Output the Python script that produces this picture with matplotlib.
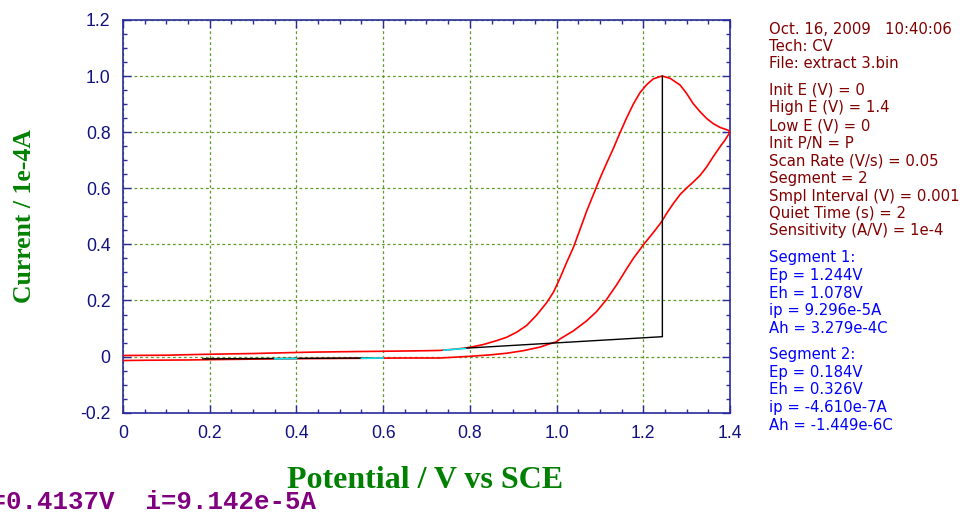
import matplotlib
matplotlib.use("Agg")
import matplotlib.pyplot as plt
from matplotlib.ticker import MultipleLocator, FixedLocator

# ---------------- data ----------------
fwd_E = [0.0, 0.1, 0.185, 0.30, 0.38, 0.44, 0.54, 0.60, 0.65, 0.70, 0.731, 0.770, 0.800,
         0.831, 0.862, 0.885, 0.908, 0.931, 0.954, 0.977, 0.993, 1.008, 1.023, 1.039,
         1.054, 1.069, 1.085, 1.100, 1.115, 1.131, 1.146, 1.161, 1.177, 1.192, 1.208,
         1.223, 1.238, 1.244, 1.262, 1.285, 1.300, 1.315, 1.331, 1.346, 1.361, 1.377,
         1.396, 1.40]
fwd_i = [0.004, 0.005, 0.008, 0.011, 0.014, 0.016, 0.018, 0.019, 0.020, 0.021, 0.022, 0.027, 0.033,
         0.043, 0.057, 0.069, 0.087, 0.111, 0.148, 0.192, 0.230, 0.280, 0.335, 0.390,
         0.453, 0.517, 0.578, 0.635, 0.688, 0.742, 0.797, 0.849, 0.900, 0.940, 0.970,
         0.990, 0.998, 1.000, 0.992, 0.968, 0.938, 0.902, 0.873, 0.849, 0.831, 0.817,
         0.807, 0.800]

rev_E = [1.40, 1.388, 1.377, 1.361, 1.346, 1.331, 1.315, 1.300, 1.285, 1.269, 1.254,
         1.242, 1.223, 1.200, 1.177, 1.162, 1.139, 1.115, 1.092, 1.069, 1.039, 1.008,
         1.0, 0.977, 0.962, 0.923, 0.885, 0.846, 0.80, 0.731, 0.65, 0.55, 0.45, 0.35,
         0.25, 0.15, 0.05, 0.0]
rev_i = [0.800, 0.771, 0.748, 0.712, 0.676, 0.646, 0.622, 0.601, 0.578, 0.545, 0.511,
         0.480, 0.442, 0.398, 0.350, 0.314, 0.257, 0.203, 0.160, 0.127, 0.092, 0.063,
         0.053, 0.042, 0.034, 0.021, 0.012, 0.006, 0.001, -0.005, -0.005, -0.006, -0.007,
         -0.008, -0.010, -0.012, -0.013, -0.014]

# baselines used for peak evaluation
base1_E = [0.79, 1.244, 1.244]
base1_i = [0.030, 0.071, 1.000]
base2_E = [0.184, 0.57]
base2_i = [-0.008, -0.005]
# cyan markers of baseline end-points
cyan_E = [[0.35, 0.40], [0.55, 0.60], [0.74, 0.79]]
cyan_i = [[-0.008, -0.007], [-0.006, -0.005], [0.023, 0.029]]

x_ticks = [0, 0.2, 0.4, 0.6, 0.8, 1.0, 1.2, 1.4]
x_ticklabels = ["0", "0.2", "0.4", "0.6", "0.8", "1.0", "1.2", "1.4"]
y_ticks = [-0.2, 0, 0.2, 0.4, 0.6, 0.8, 1.0, 1.2]
y_ticklabels = ["-0.2", "0", "0.2", "0.4", "0.6", "0.8", "1.0", "1.2"]

header_lines = ["Oct. 16, 2009   10:40:06", "Tech: CV", "File: extract 3.bin"]
param_lines = ["Init E (V) = 0", "High E (V) = 1.4", "Low E (V) = 0", "Init P/N = P",
               "Scan Rate (V/s) = 0.05", "Segment = 2", "Smpl Interval (V) = 0.001",
               "Quiet Time (s) = 2", "Sensitivity (A/V) = 1e-4"]
seg1_lines = ["Segment 1:", "Ep = 1.244V", "Eh = 1.078V", "ip = 9.296e-5A", "Ah = 3.279e-4C"]
seg2_lines = ["Segment 2:", "Ep = 0.184V", "Eh = 0.326V", "ip = -4.610e-7A", "Ah = -1.449e-6C"]
cursor_text = "E=0.4137V  i=9.142e-5A"

# ---------------- figure ----------------
W, H = 964, 512
fig = plt.figure(figsize=(W / 100, H / 100), dpi=100)
fig.patch.set_facecolor("white")
ax = fig.add_axes([123 / W, 1 - 412.7 / H, (730 - 123) / W, (412.7 - 20) / H])

spine_col = "#2a2a9c"
tick_col = "#12127e"
grid_col = "#5e9a2a"

ax.plot(fwd_E, fwd_i, color="#ff0000", lw=1.2, zorder=3)
ax.plot(rev_E, rev_i, color="#ff0000", lw=1.2, zorder=3)
ax.plot(base1_E, base1_i, color="#000000", lw=1.0, zorder=4)
ax.plot(base2_E, base2_i, color="#000000", lw=1.0, zorder=4)
for ce, ci in zip(cyan_E, cyan_i):
    ax.plot(ce, ci, color="#00e5ee", lw=1.2, zorder=5)

ax.set_xlim(0, 1.4)
ax.set_ylim(-0.2, 1.2)
ax.xaxis.set_major_locator(FixedLocator(x_ticks))
ax.yaxis.set_major_locator(FixedLocator(y_ticks))
ax.set_xticklabels(x_ticklabels)
ax.set_yticklabels(y_ticklabels)
ax.xaxis.set_minor_locator(MultipleLocator(0.05))
ax.yaxis.set_minor_locator(MultipleLocator(0.05))

ax.grid(True, which="major", color=grid_col, linestyle=(0, (2.2, 2.2)), lw=0.9, zorder=1)

for s in ax.spines.values():
    s.set_color(spine_col)
    s.set_linewidth(1.2)

ax.tick_params(axis="both", which="both", color=spine_col, labelcolor=tick_col,
               labelsize=12.7, top=True, right=True, width=1.0)
ax.tick_params(axis="x", which="major", length=6, direction="in", pad=9)
ax.tick_params(axis="x", which="minor", length=3, direction="in")
ax.tick_params(axis="y", which="major", length=6, direction="in", pad=9)
ax.tick_params(axis="y", which="minor", length=3, direction="in")
for t in ax.get_xticklabels() + ax.get_yticklabels():
    t.set_family("Liberation Sans")
# top and right ticks point outward
for tl in ax.xaxis.get_major_ticks() + ax.xaxis.get_minor_ticks():
    tl.tick2line.set_marker(3)  # TICKUP
for tl in ax.yaxis.get_major_ticks() + ax.yaxis.get_minor_ticks():
    tl.tick2line.set_marker(0)  # TICKRIGHT

ax.set_xlabel("Potential / V vs SCE", family="Liberation Serif", fontweight="bold",
              fontsize=23, color="#008000")
ax.xaxis.set_label_coords(0.497, -0.172)
ax.xaxis.label.set_va("center")
ax.set_ylabel("Current / 1e-4A", family="Liberation Serif", fontweight="bold",
              fontsize=18.5, color="#008000")
ax.yaxis.set_label_coords(-0.162, 0.5)
ax.yaxis.label.set_va("center")

# right-hand information block
tx = 769 / W
fs = 10.7
y_hdr = [29.3, 46.7, 64]
y_par = [90, 107.7, 125.7, 143.3, 161, 179, 196.7, 213.3, 230.7]
y_s1 = [257.7, 275.7, 293.3, 310.7, 328.3]
y_s2 = [355, 372.7, 390, 407.3, 425]
for lines, ys, col in [(header_lines, y_hdr, "#800000"), (param_lines, y_par, "#800000"),
                       (seg1_lines, y_s1, "#0000ff"), (seg2_lines, y_s2, "#0000ff")]:
    for s, yy in zip(lines, ys):
        fig.text(tx, 1 - yy / H, s, color=col, fontsize=fs, family="DejaVu Sans",
                 ha="left", va="center")

fig.text(-25 / W, 1 - 502 / H, cursor_text, color="#800080", fontsize=18.5,
         family="Liberation Mono", fontweight="bold", ha="left", va="center")

fig.savefig("out.png", dpi=100)
